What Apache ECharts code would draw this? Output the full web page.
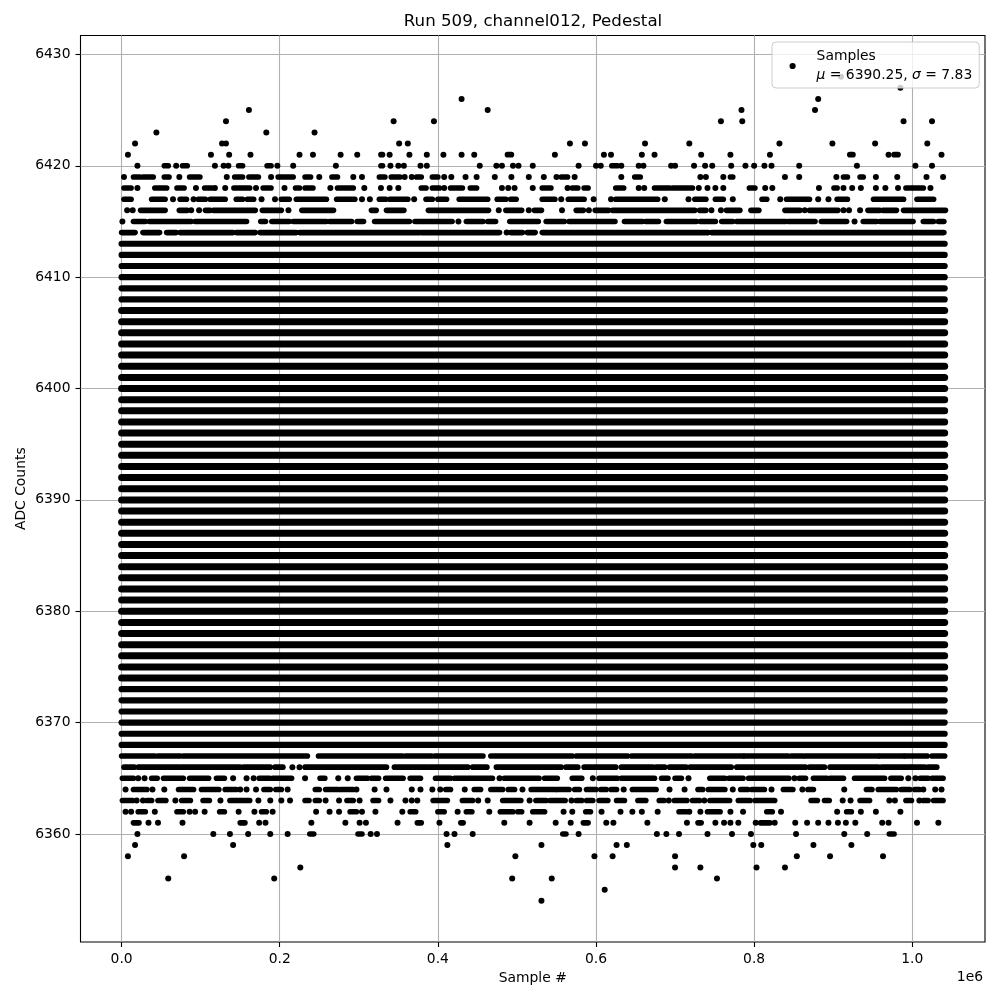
<!DOCTYPE html>
<html><head><meta charset="utf-8">
<style>html,body{margin:0;padding:0;background:#fff}#c{width:1000px;height:1000px}</style>
<script src="https://cdn.jsdelivr.net/npm/echarts@6/dist/echarts.min.js"></script>
</head><body><div id="c"></div>
<script>
// Sample positions are in thousands of samples; a number is one sample, [a,b] a run of touching samples.
const xTicks = [0, 200000, 400000, 600000, 800000, 1000000];
const yTicks = [6360, 6370, 6380, 6390, 6400, 6410, 6420, 6430];
const solidLevels = [6368,6369,6370,6371,6372,6373,6374,6375,6376,6377,6378,6379,6380,6381,6382,6383,6384,6385,6386,6387,6388,6389,6390,6391,6392,6393,6394,6395,6396,6397,6398,6399,6400,6401,6402,6403,6404,6405,6406,6407,6408,6409,6410,6411,6412,6413];
const solidRun = [0, 1041];
const l6428 = [910];
const l6427 = [985];
const l6426 = [430,881];
const l6425 = [161,463,784,877];
const l6424 = [132,344,395,758,785,989,1025];
const l6423 = [44,183,244];
const l6422 = [17,127,132,351,362,567,586,662,718,832,899,953,1019];
const l6421 = [8,113,136,163,225,242,277,298,[328,330],339,364,386,407,430,446,[488,493],548,610,619,658,674,733,770,820,[921,925],970,[977,982],1037];
const l6420 = [20,[54,59],69,[77,83],118,129,135,[148,153],[184,189],197,217,271,[328,330],340,350,357,378,386,453,474,481,495,502,520,578,600,606,[620,627],632,654,660,695,700,724,738,747,771,789,800,813,822,857,930,1004,1025];
const l6419 = [3,[15,23],[27,40],[54,60],73,[86,99],133,[143,153],[161,173],189,[198,217],[232,239],250,[266,273],293,304,[326,333],[341,352],358,367,[373,379],[393,400],408,417,435,449,472,493,515,534,550,[556,564],573,632,[649,656],732,739,761,[770,773],839,857,904,[913,918],[934,938],954,981,1018,1039];
const l6418 = [[3,12],20,[42,57],[70,79],94,[105,114],118,131,[142,162],170,[179,189],206,[220,225],[232,242],264,[273,293],307,328,339,350,[379,385],[393,402],408,[416,431],[441,449],481,489,497,520,[532,543],564,[570,577],[585,590],[625,635],654,661,[674,693],[697,722],730,741,751,761,[794,801],814,823,882,[901,905],913,924,935,954,966,982,[992,1014],1023];
const l6417 = [[3,12],[38,55],65,[74,82],91,[97,106],[112,131],[145,153],[159,167],177,194,[202,212],[221,259],[272,295],304,314,[326,334],[339,362],370,[385,393],[400,411],[427,463],[475,486],[492,499],[532,548],556,[565,585],597,619,[625,678],687,717,[725,739],[751,761],773,[810,816],833,[841,870],881,894,[905,918],[951,989],[1006,1027]];
const l6416 = [7,14,[24,55],[73,83],88,98,[106,112],[116,169],[178,202],211,[228,268],[316,322],[335,357],[388,464],477,[486,506],515,[522,531],557,[575,584],591,[599,616],[621,725],[731,739],746,758,[765,782],[796,806],[839,858],864,[870,906],913,920,934,[944,959],[963,980],[989,1042]];
const l6415 = [1,[15,30],[35,88],[93,158],[176,182],[190,212],[217,259],[263,291],[298,306],[320,364],[371,418],426,[436,457],[463,473],[491,527],[537,560],[566,624],[636,659],[663,679],[689,727],[732,751],[759,773],[778,840],[843,877],[885,917],927,[938,955],[959,1001],[1014,1027],[1033,1040]];
const l6414 = [[0,17],[27,48],[57,69],[74,141],[145,169],[175,221],[225,377],[379,478],487,[492,507],[513,523],[532,742],[746,1040]];
const l6367 = [[0,42],[46,74],[78,235],[249,355],[359,392],[396,457],[467,570],[575,640],[645,721],[725,786],[788,843],[847,862],[865,957],[959,989],[991,1019],[1025,1041]];
const l6366 = [[3,16],[21,72],[75,150],[154,188],[194,204],216,225,[232,335],[345,385],[388,438],[444,462],[474,556],[562,577],[585,625],[632,672],[676,687],[693,714],[719,771],[778,865],[870,889],[896,957],[961,997],[999,1016],[1020,1031]];
const l6365 = [[1,15],21,29,[38,45],[53,78],[86,110],[120,130],141,158,167,[174,187],[191,215],232,[251,257],274,286,[297,311],[316,325],[334,356],[365,378],[397,416],[421,469],478,[484,528],[535,551],[570,582],596,[604,627],[632,674],[683,691],[700,708],717,[744,763],[768,786],[793,844],851,[857,865],[875,892],[896,913],[927,965],[973,986],995,1004,[1010,1020],[1025,1039]];
const l6364 = [5,[15,32],39,54,[72,91],[101,123],[131,145],150,158,170,[180,188],[195,202],210,[245,250],[258,274],[277,293],297,320,335,367,378,393,403,[410,416],434,[446,454],[467,482],[489,497],507,[518,549],[551,566],[573,579],[588,600],[606,613],[619,626],635,[646,676],693,712,[729,735],[742,763],773,[783,792],[797,813],822,[837,849],861,[868,875],914,[942,949],[957,980],[986,997],[1003,1009],1014,1029,1037];
const l6363 = [[1,14],19,27,[32,38],[46,56],68,[76,87],[103,111],125,[137,162],173,188,202,213,[232,237],[245,250],258,275,[285,293],301,[318,325],340,359,367,374,[394,412],[431,444],451,463,[482,505],516,[524,537],[542,561],569,[575,582],[588,596],[604,615],[626,636],[653,663],[680,686],692,[699,715],[722,731],737,[744,769],[780,795],[801,826],[872,880],[889,895],912,922,[934,946],971,978,[992,999],1009,[1014,1020],[1027,1039]];
const l6362 = [5,12,[21,30],42,[70,78],86,93,105,[124,130],148,168,[177,183],191,246,263,275,[289,297],304,321,355,[365,372],[400,408],425,[436,443],465,[479,495],[501,506],[520,535],559,570,[587,593],607,631,646,658,678,[705,714],718,732,[741,757],770,786,[816,823],834,905,[917,923],935,954,985];
const l6361 = [[15,22],34,46,77,[150,156],174,182,240,283,301,309,349,[374,379],402,[429,432],484,516,549,568,[584,590],613,622,665,715,[729,733],751,762,770,780,802,[808,820],826,852,867,881,894,906,916,928,962,970,1006,1033];
const l6360 = [20,116,137,160,188,210,[238,243],[299,304],315,323,411,421,444,[558,562],578,677,689,705,741,772,796,853,914,943,[971,977]];
const l6359 = [17,141,412,531,626,639,799,809,875,923];
const l6358 = [8,79,498,598,621,700,854,896,963];
const l6357 = [226,700,732,803,839];
const l6356 = [59,193,494,544,753];
const l6355 = [611];
const l6354 = [531];

const sparseRows = [[6428,l6428],[6427,l6427],[6426,l6426],[6425,l6425],[6424,l6424],[6423,l6423],[6422,l6422],[6421,l6421],[6420,l6420],[6419,l6419],[6418,l6418],[6417,l6417],[6416,l6416],[6415,l6415],[6414,l6414],[6367,l6367],[6366,l6366],[6365,l6365],[6364,l6364],[6363,l6363],[6362,l6362],[6361,l6361],[6360,l6360],[6359,l6359],[6358,l6358],[6357,l6357],[6356,l6356],[6355,l6355],[6354,l6354]];

const K = 1000, FONT = '"DejaVu Sans"';
const dots = [], runs = [];
sparseRows.forEach(([level, row]) => row.forEach(e => {
  if (Array.isArray(e)) runs.push([e[0]*K, e[1]*K, level]); else dots.push([e*K, level]);
}));
solidLevels.forEach(level => runs.push([solidRun[0]*K, solidRun[1]*K, level]));

const chart = echarts.init(document.getElementById('c'), null, {renderer:'canvas'});
const gridLine = {show:true, lineStyle:{color:'#b0b0b0', width:1.1, type:'solid'}};
chart.setOption({
  animation:false,
  backgroundColor:'#fff',
  title:{text:'Run 509, channel012, Pedestal', left:528, top:8, textAlign:'center',
    textStyle:{fontFamily:FONT,fontSize:16.67,fontWeight:'normal',color:'#000'}},
  grid:{left:80.5, right:15, top:35.5, bottom:58, show:true, borderColor:'#000', borderWidth:1.1, backgroundColor:'#fff'},
  xAxis:{type:'value', min:-52000, max:1092000, name:'Sample #', nameLocation:'middle', nameGap:29,
    nameTextStyle:{fontFamily:FONT,fontSize:13.89,color:'#000'},
    axisLine:{show:false, onZero:false},
    axisTick:{show:true, length:5, customValues:xTicks, lineStyle:{color:'#000',width:1.1}},
    axisLabel:{fontFamily:FONT,fontSize:13.89,color:'#000',margin:10, customValues:xTicks, formatter:v=>(v/1e6).toFixed(1)},
    splitLine:Object.assign({customValues:xTicks},gridLine)},
  yAxis:{type:'value', min:6350.3, max:6431.7, name:'ADC Counts', nameLocation:'middle', nameGap:52, nameMoveOverlap:false,
    nameTextStyle:{fontFamily:FONT,fontSize:13.89,color:'#000'},
    axisLine:{show:false, onZero:false},
    axisTick:{show:true, length:5, customValues:yTicks, lineStyle:{color:'#000',width:1.1}},
    axisLabel:{fontFamily:FONT,fontSize:13.89,color:'#000',margin:10, customValues:yTicks, formatter:v=>String(v)},
    splitLine:Object.assign({customValues:yTicks},gridLine)},
  legend:{show:true, left:772, top:42, orient:'vertical', padding:[7.5,7,5.5,17.5],
    itemWidth:38, itemHeight:6.2, icon:'circle',
    backgroundColor:'rgba(255,255,255,0.8)', borderColor:'#cccccc', borderWidth:1, borderRadius:4,
    data:['Samples'],
    formatter:()=>'{t|Samples}\n{t|}{i|\u03bc}{t| = 6390.25, }{i|\u03c3}{t| = 7.83}',
    textStyle:{rich:{
      t:{fontFamily:FONT,fontSize:13.89,color:'#000',lineHeight:19},
      i:{fontFamily:FONT,fontSize:13.89,fontStyle:'italic',color:'#000',lineHeight:19}}}},
  graphic:[{type:'text', right:17, top:970, silent:true,
    style:{text:'1e6', font:'13.89px '+FONT, fill:'#000', textAlign:'right'}}],
  series:[
    {type:'custom', name:'runs', coordinateSystem:'cartesian2d', clip:false, silent:true, z:2,
      data:runs, encode:{x:[0,1],y:2},
      renderItem:(p,api)=>{
        const level = api.value(2);
        const a = api.coord([api.value(0),level]), b = api.coord([api.value(1),level]);
        const w = (level>=6374 && level<=6407) ? 7 : (level>=6368 && level<=6413) ? 6.2 : 5.6;
        return {type:'line', shape:{x1:a[0],y1:a[1],x2:b[0],y2:b[1]}, style:{stroke:'#000',lineWidth:w,lineCap:'round'}};
      }},
    {type:'scatter', name:'Samples', data:dots, symbol:'circle', symbolSize:6, z:2, clip:false, silent:true,
      itemStyle:{color:'#000',opacity:1}}
  ]
});
</script></body></html>
